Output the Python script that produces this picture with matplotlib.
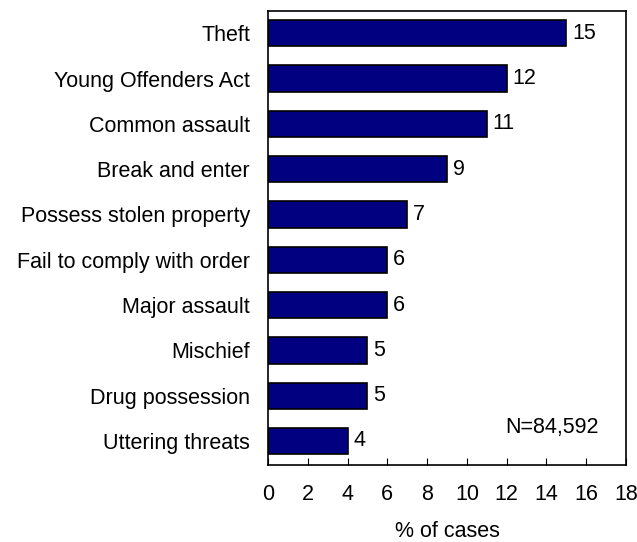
import matplotlib.pyplot as plt
import numpy as np

categories = ['Theft', 'Young Offenders Act', 'Common assault', 'Break and enter',
              'Possess stolen property', 'Fail to comply with order', 'Major assault',
              'Mischief', 'Drug possession', 'Uttering threats']
values = [15, 12, 11, 9, 7, 6, 6, 5, 5, 4]
xticks = [0, 2, 4, 6, 8, 10, 12, 14, 16, 18]

plt.rcParams['font.family'] = ['Liberation Sans', 'DejaVu Sans']
plt.rcParams['font.size'] = 15.5

fig = plt.figure(figsize=(6.37, 5.42), dpi=100)
ax = fig.add_axes([268 / 637, 1 - 465 / 542, (626 - 268) / 637, (465 - 11) / 542])

y = np.arange(len(categories))
ax.barh(y, values, height=0.58, color='#000080', edgecolor='black', linewidth=1.2)
for yi, v in zip(y, values):
    ax.text(v + 0.3, yi, str(v), va='center', ha='left')

ax.set_xlim(0, 18)
ax.set_ylim(9.53, -0.49)
ax.set_xticks(xticks)
ax.set_yticks(y)
ax.set_yticklabels(categories)
ax.tick_params(axis='y', length=0, pad=13)
ax.tick_params(axis='x', direction='in', length=5, pad=14)
ax.set_xlabel('% of cases', labelpad=11)
for s in ax.spines.values():
    s.set_linewidth(1.2)

ax.text(14.3, 8.7, 'N=84,592', ha='center', va='center')

fig.savefig('out.png', dpi=100)
